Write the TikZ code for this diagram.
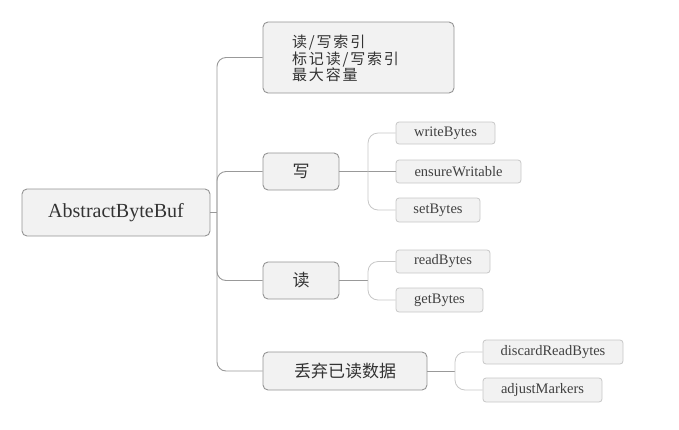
\documentclass[tikz,border=0pt]{standalone}
\usepackage{fontspec}
\setmainfont{Liberation Serif}
\newfontfamily\cjk{Noto Sans CJK SC}
\newfontfamily\cjkw[LetterSpace=12]{Noto Sans CJK SC}
\begin{document}
\begin{tikzpicture}[x=1pt,y=-1pt,
  lvbox/.style={draw=black!42, fill=black!5, rounded corners=5pt, line width=0.9pt, text=black!80, inner sep=0pt, anchor=center},
  cjklabel/.style={font=\cjk\fontsize{17}{19}\selectfont},
  subbox/.style={draw=black!22, fill=black!5, rounded corners=3pt, line width=0.8pt, text=black!75, inner sep=0pt, font=\fontsize{14.5}{16}\selectfont},
  mainline/.style={draw=black!40, line width=0.9pt, rounded corners=9pt},
  stub/.style={draw=black!40, line width=0.8pt},
  subline/.style={draw=black!22, line width=0.8pt, rounded corners=10pt}]
\useasboundingbox (0,0) rectangle (679,429);
% root
\node[lvbox, minimum width=188pt, minimum height=47pt, font=\fontsize{20}{22}\selectfont] (root) at (116,212.5) {AbstractByteBuf};
% level 1
\node[lvbox, minimum width=191pt, minimum height=71pt] (attr) at (358.5,57.5) {};
\node[anchor=west, align=left, inner sep=0pt, text=black!80, font=\cjkw\fontsize{15}{16.3}\selectfont] (attrtxt) at (292,58.5) {读/写索引\\标记读/写索引\\最大容量};
\node[lvbox, cjklabel, minimum width=76pt, minimum height=37pt] (w) at (301,171.5) {写};
\node[lvbox, cjklabel, minimum width=76pt, minimum height=37pt] (r) at (301,280.5) {读};
\node[lvbox, cjklabel, minimum width=164pt, minimum height=38pt] (d) at (345,371) {丢弃已读数据};
% level 2
\node[subbox, minimum width=99pt, minimum height=22pt] (wb) at (445.5,133) {writeBytes};
\node[subbox, minimum width=125pt, minimum height=23pt] (ew) at (458.5,171.5) {ensureWritable};
\node[subbox, minimum width=84pt, minimum height=24pt] (sb) at (438,210) {setBytes};
\node[subbox, minimum width=94pt, minimum height=23pt] (rb) at (443,261.5) {readBytes};
\node[subbox, minimum width=87pt, minimum height=24pt] (gb) at (439.5,300) {getBytes};
\node[subbox, minimum width=140pt, minimum height=24pt] (drb) at (553,352) {discardReadBytes};
\node[subbox, minimum width=119pt, minimum height=24pt] (am) at (542.5,390) {adjustMarkers};
% trunk
\coordinate (t) at (217,212.5);
\draw[draw=black!40, line width=0.9pt] (root.east) -- (t);
\draw[mainline] (t) |- (attr.west);
\draw[mainline] (t) |- (w.west);
\draw[mainline] (t) |- (r.west);
\draw[mainline] (t) |- (d.west);
% sub trunks
\coordinate (tw) at (368,171.5);
\draw[stub] (w.east) -- (tw) -- (ew.west);
\draw[subline] (tw) |- (wb.west);
\draw[subline] (tw) |- (sb.west);
\coordinate (tr) at (368,280.5);
\draw[stub] (r.east) -- (tr);
\draw[subline] (tr) |- (rb.west);
\draw[subline] (tr) |- (gb.west);
\coordinate (td) at (455,371);
\draw[stub] (d.east) -- (td);
\draw[subline] (td) |- (drb.west);
\draw[subline] (td) |- (am.west);
\end{tikzpicture}
\end{document}
